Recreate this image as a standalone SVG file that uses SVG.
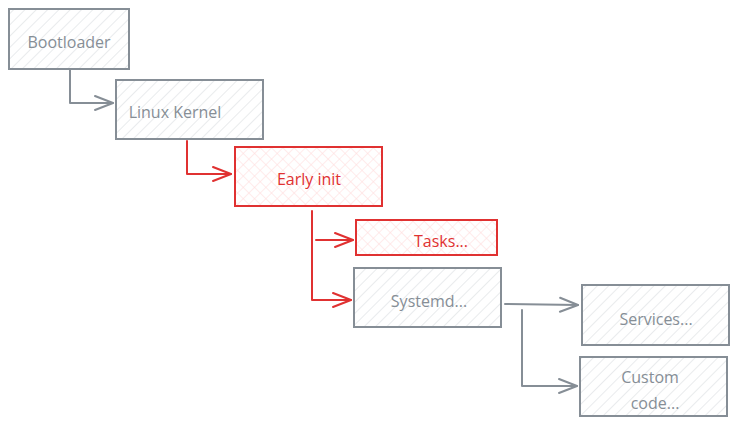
<svg xmlns="http://www.w3.org/2000/svg" width="740" height="427" viewBox="0 0 740 427">
<style>
.g rect{fill:url(#hg);stroke:#868e96;stroke-width:2}
.r rect{fill:url(#hr);stroke:#e03131;stroke-width:2}
text{font-family:"Open Sans","Liberation Sans",sans-serif;font-size:16px;text-anchor:middle;dominant-baseline:central}
.g text{fill:#868e96}
.r text{fill:#e03131}
.cg{fill:none;stroke:#868e96;stroke-width:2;stroke-linecap:round;stroke-linejoin:round}
.cr{fill:none;stroke:#e03131;stroke-width:2;stroke-linecap:round;stroke-linejoin:round}
</style>
<defs>
<pattern id="hg" width="8" height="8" patternUnits="userSpaceOnUse" patternTransform="rotate(45)">
<rect width="8" height="8" fill="#ffffff"/>
<line x1="0" y1="0" x2="0" y2="8" stroke="#e2e5e8" stroke-width="1.5"/>
</pattern>
<pattern id="hr" width="8" height="8" patternUnits="userSpaceOnUse" patternTransform="rotate(45)">
<rect width="8" height="8" fill="#ffffff"/>
<line x1="0" y1="0" x2="0" y2="8" stroke="#ffdede" stroke-width="1.2"/>
<line x1="0" y1="0" x2="8" y2="0" stroke="#ffdede" stroke-width="1.2"/>
</pattern>
<marker id="ag" markerWidth="22" markerHeight="18" refX="20" refY="9" orient="auto" markerUnits="userSpaceOnUse">
<path d="M2,2 L20,9 L2,16" fill="none" stroke="#868e96" stroke-width="2" stroke-linecap="round" stroke-linejoin="round"/>
</marker>
<marker id="ar" markerWidth="22" markerHeight="18" refX="20" refY="9" orient="auto" markerUnits="userSpaceOnUse">
<path d="M2,2 L20,9 L2,16" fill="none" stroke="#e03131" stroke-width="2" stroke-linecap="round" stroke-linejoin="round"/>
</marker>
</defs>
<g id="connectors">
<path class="cg" d="M70,70 L70,103 L113,103" marker-end="url(#ag)"/>
<path class="cr" d="M187,141 L187,174 L231,174" marker-end="url(#ar)"/>
<path class="cr" d="M312,211 L312,300 L351,300" marker-end="url(#ar)"/>
<path class="cr" d="M316,240 L353,240" marker-end="url(#ar)"/>
<path class="cg" d="M505,304 L578,305" marker-end="url(#ag)"/>
<path class="cg" d="M522,310 L522,386 L577,386" marker-end="url(#ag)"/>
</g>
<g id="bootloader" class="g"><rect x="9" y="9" width="120" height="60"/><text x="69" y="42">Bootloader</text></g>
<g id="linux-kernel" class="g"><rect x="116" y="80" width="147" height="59"/><text x="175" y="112">Linux Kernel</text></g>
<g id="early-init" class="r"><rect x="235" y="147" width="147" height="59"/><text x="309" y="179">Early init</text></g>
<g id="tasks" class="r"><rect x="356" y="220" width="141" height="35"/><text x="441" y="241">Tasks...</text></g>
<g id="systemd" class="g"><rect x="354" y="268" width="147" height="59"/><text x="429" y="301">Systemd...</text></g>
<g id="services" class="g"><rect x="582" y="285" width="147" height="60"/><text x="656" y="319">Services...</text></g>
<g id="custom-code" class="g"><rect x="580" y="357" width="147" height="59"/><text x="650" y="377">Custom</text><text x="655" y="403">code...</text></g>
</svg>
